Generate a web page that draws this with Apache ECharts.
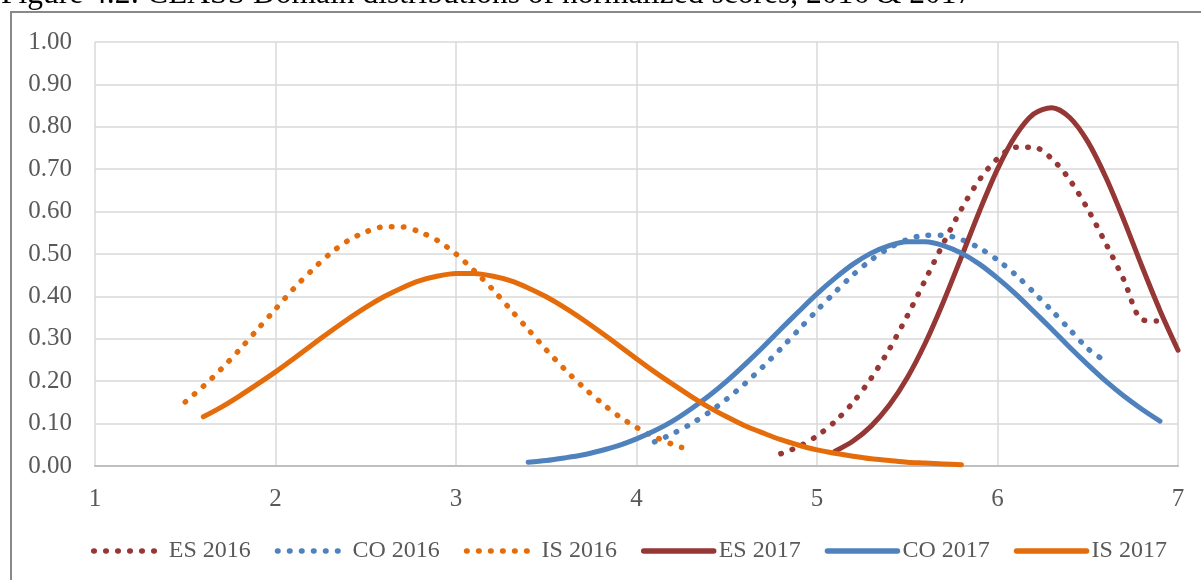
<!DOCTYPE html>
<html lang="en">
<head>
    <meta charset="UTF-8">
    <title>CLASS Domain distributions</title>
    <script src="https://cdn.jsdelivr.net/npm/echarts@6/dist/echarts.min.js"></script>
    <style>
        html, body { margin: 0; padding: 0; background: #fff; }
        #main { width: 1201px; height: 580px; }
    </style>
</head>
<body>
<div id="main"></div>
<script type="text/javascript">
    // values
    var seriesNames = ['ES 2016', 'CO 2016', 'IS 2016', 'ES 2017', 'CO 2017', 'IS 2017'];
    var xTicks = [1, 2, 3, 4, 5, 6, 7];
    var yTicks = [0, 0.1, 0.2, 0.3, 0.4, 0.5, 0.6, 0.7, 0.8, 0.9, 1.0];

    var es2016X = [4.8, 4.9, 5.0, 5.1, 5.2, 5.3, 5.4, 5.5, 5.6, 5.7, 5.8, 5.9, 6.0, 6.1, 6.2, 6.3, 6.4, 6.5, 6.6, 6.7, 6.8, 6.88];
    var es2016Y = [0.029, 0.046, 0.071, 0.105, 0.150, 0.207, 0.275, 0.354, 0.439, 0.525, 0.606, 0.675, 0.725, 0.752, 0.752, 0.725, 0.675, 0.606, 0.525, 0.439, 0.345, 0.342];

    var co2016X = [4.1, 4.2, 4.3, 4.4, 4.5, 4.6, 4.7, 4.8, 4.9, 5.0, 5.1, 5.2, 5.3, 5.4, 5.5, 5.6, 5.7, 5.8, 5.9, 6.0, 6.1, 6.2, 6.3, 6.4, 6.5, 6.57];
    var co2016Y = [0.057, 0.076, 0.099, 0.126, 0.158, 0.194, 0.234, 0.277, 0.322, 0.367, 0.410, 0.451, 0.486, 0.514, 0.534, 0.544, 0.544, 0.534, 0.514, 0.486, 0.451, 0.410, 0.367, 0.322, 0.277, 0.255];

    var is2016X = [1.5, 1.6, 1.7, 1.8, 1.9, 2.0, 2.1, 2.2, 2.3, 2.4, 2.5, 2.6, 2.7, 2.8, 2.9, 3.0, 3.1, 3.2, 3.3, 3.4, 3.5, 3.6, 3.7, 3.8, 3.9, 4.0, 4.1, 4.2, 4.25];
    var is2016Y = [0.151, 0.188, 0.229, 0.274, 0.322, 0.370, 0.418, 0.461, 0.500, 0.531, 0.552, 0.564, 0.564, 0.552, 0.531, 0.500, 0.461, 0.418, 0.370, 0.322, 0.274, 0.229, 0.188, 0.151, 0.118, 0.091, 0.069, 0.051, 0.044];

    var es2017X = [5.1, 5.2, 5.3, 5.4, 5.5, 5.6, 5.7, 5.8, 5.9, 6.0, 6.1, 6.2, 6.3, 6.4, 6.5, 6.6, 6.7, 6.8, 6.9, 7.0];
    var es2017Y = [0.035, 0.059, 0.094, 0.143, 0.208, 0.290, 0.387, 0.493, 0.601, 0.700, 0.779, 0.830, 0.845, 0.822, 0.765, 0.681, 0.580, 0.471, 0.367, 0.273];

    var co2017X = [3.4, 3.5, 3.6, 3.7, 3.8, 3.9, 4.0, 4.1, 4.2, 4.3, 4.4, 4.5, 4.6, 4.7, 4.8, 4.9, 5.0, 5.1, 5.2, 5.3, 5.4, 5.5,
                   5.6, 5.7, 5.8, 5.9, 6.0, 6.1, 6.2, 6.3, 6.4, 6.5, 6.6, 6.7, 6.8, 6.9];
    var co2017Y = [0.009, 0.013, 0.019, 0.026, 0.036, 0.048, 0.064, 0.083, 0.106, 0.134, 0.165, 0.200, 0.239, 0.280, 0.323, 0.365, 0.406, 0.443, 0.476, 0.502, 0.520, 0.529,
                   0.529, 0.520, 0.502, 0.476, 0.443, 0.406, 0.365, 0.323, 0.280, 0.239, 0.200, 0.165, 0.134, 0.106];

    var is2017X = [1.6, 1.7, 1.8, 1.9, 2.0, 2.1, 2.2, 2.3, 2.4, 2.5, 2.6, 2.7, 2.8, 2.9, 3.0,
                   3.1, 3.2, 3.3, 3.4, 3.5, 3.6, 3.7, 3.8, 3.9, 4.0, 4.1, 4.2, 4.3, 4.4, 4.5,
                   4.6, 4.7, 4.8, 4.9, 5.0, 5.1, 5.2, 5.3, 5.4, 5.5, 5.6, 5.7, 5.8];
    var is2017Y = [0.116, 0.139, 0.165, 0.193, 0.222, 0.253, 0.285, 0.316, 0.346, 0.374, 0.399, 0.420, 0.437, 0.448, 0.454,
                   0.454, 0.448, 0.437, 0.420, 0.399, 0.374, 0.346, 0.316, 0.285, 0.253, 0.222, 0.193, 0.165, 0.139, 0.116,
                   0.095, 0.078, 0.062, 0.049, 0.038, 0.030, 0.023, 0.017, 0.013, 0.009, 0.007, 0.005, 0.003];

    var RED = '#953735', BLUE = '#4f81bd', ORANGE = '#e46c0a';
    var FONT = 'Liberation Serif';
    var DOTS = [0.5, 11.5];

    function pairs(xs, ys) {
        var out = [];
        for (var i = 0; i < xs.length; i++) out.push([xs[i], ys[i]]);
        return out;
    }

    function curve(name, xs, ys, color, dotted) {
        return {
            name: name,
            type: 'line',
            smooth: 0.3,
            symbol: 'none',
            data: pairs(xs, ys),
            itemStyle: { color: color },
            lineStyle: dotted
                ? { color: color, width: 5.5, type: DOTS, cap: 'round' }
                : { color: color, width: 5, cap: 'round', join: 'round' }
        };
    }

    var myChart = echarts.init(document.getElementById('main'));
    var option = {
        animation: false,
        backgroundColor: '#fff',
        title: {
            text: 'Figure 4.2: CLASS Domain distributions of normalized scores, 2016 & 2017',
            left: 1,
            top: -21,
            padding: 0,
            textStyle: { fontFamily: FONT, fontSize: 31.5, fontWeight: 'normal', color: '#000' }
        },
        graphic: [{
            type: 'rect',
            shape: { x: 11, y: 12, width: 1200, height: 600 },
            style: { fill: 'none', stroke: '#898989', lineWidth: 2 },
            silent: true
        }],
        grid: { left: 95, right: 23, top: 42, bottom: 114, containLabel: false },
        legend: {
            data: seriesNames,
            left: 86,
            top: 534,
            itemWidth: 70,
            itemHeight: 10,
            itemGap: 24,
            itemStyle: { opacity: 0 },
            lineStyle: { width: 5.5, cap: 'round' },
            textStyle: { fontFamily: FONT, fontSize: 24, color: '#595959' }
        },
        xAxis: {
            type: 'value',
            min: xTicks[0],
            max: xTicks[xTicks.length - 1],
            interval: 1,
            axisLine: { show: true, lineStyle: { color: '#bfbfbf', width: 2 } },
            axisTick: { show: false },
            axisLabel: { margin: 21, fontFamily: FONT, fontSize: 25, color: '#595959' },
            splitLine: { show: true, lineStyle: { color: '#d9d9d9', width: 1.5 } }
        },
        yAxis: {
            type: 'value',
            min: yTicks[0],
            max: yTicks[yTicks.length - 1],
            interval: 0.1,
            axisLine: { show: false },
            axisTick: { show: false },
            axisLabel: {
                margin: 23, fontFamily: FONT, fontSize: 25, color: '#595959',
                formatter: function (v) { return v.toFixed(2); }
            },
            splitLine: { show: true, lineStyle: { color: '#d9d9d9', width: 1.5 } }
        },
        series: [
            curve(seriesNames[0], es2016X, es2016Y, RED, true),
            curve(seriesNames[1], co2016X, co2016Y, BLUE, true),
            curve(seriesNames[2], is2016X, is2016Y, ORANGE, true),
            curve(seriesNames[3], es2017X, es2017Y, RED, false),
            curve(seriesNames[4], co2017X, co2017Y, BLUE, false),
            curve(seriesNames[5], is2017X, is2017Y, ORANGE, false)
        ]
    };
    myChart.setOption(option);
</script>
</body>
</html>
